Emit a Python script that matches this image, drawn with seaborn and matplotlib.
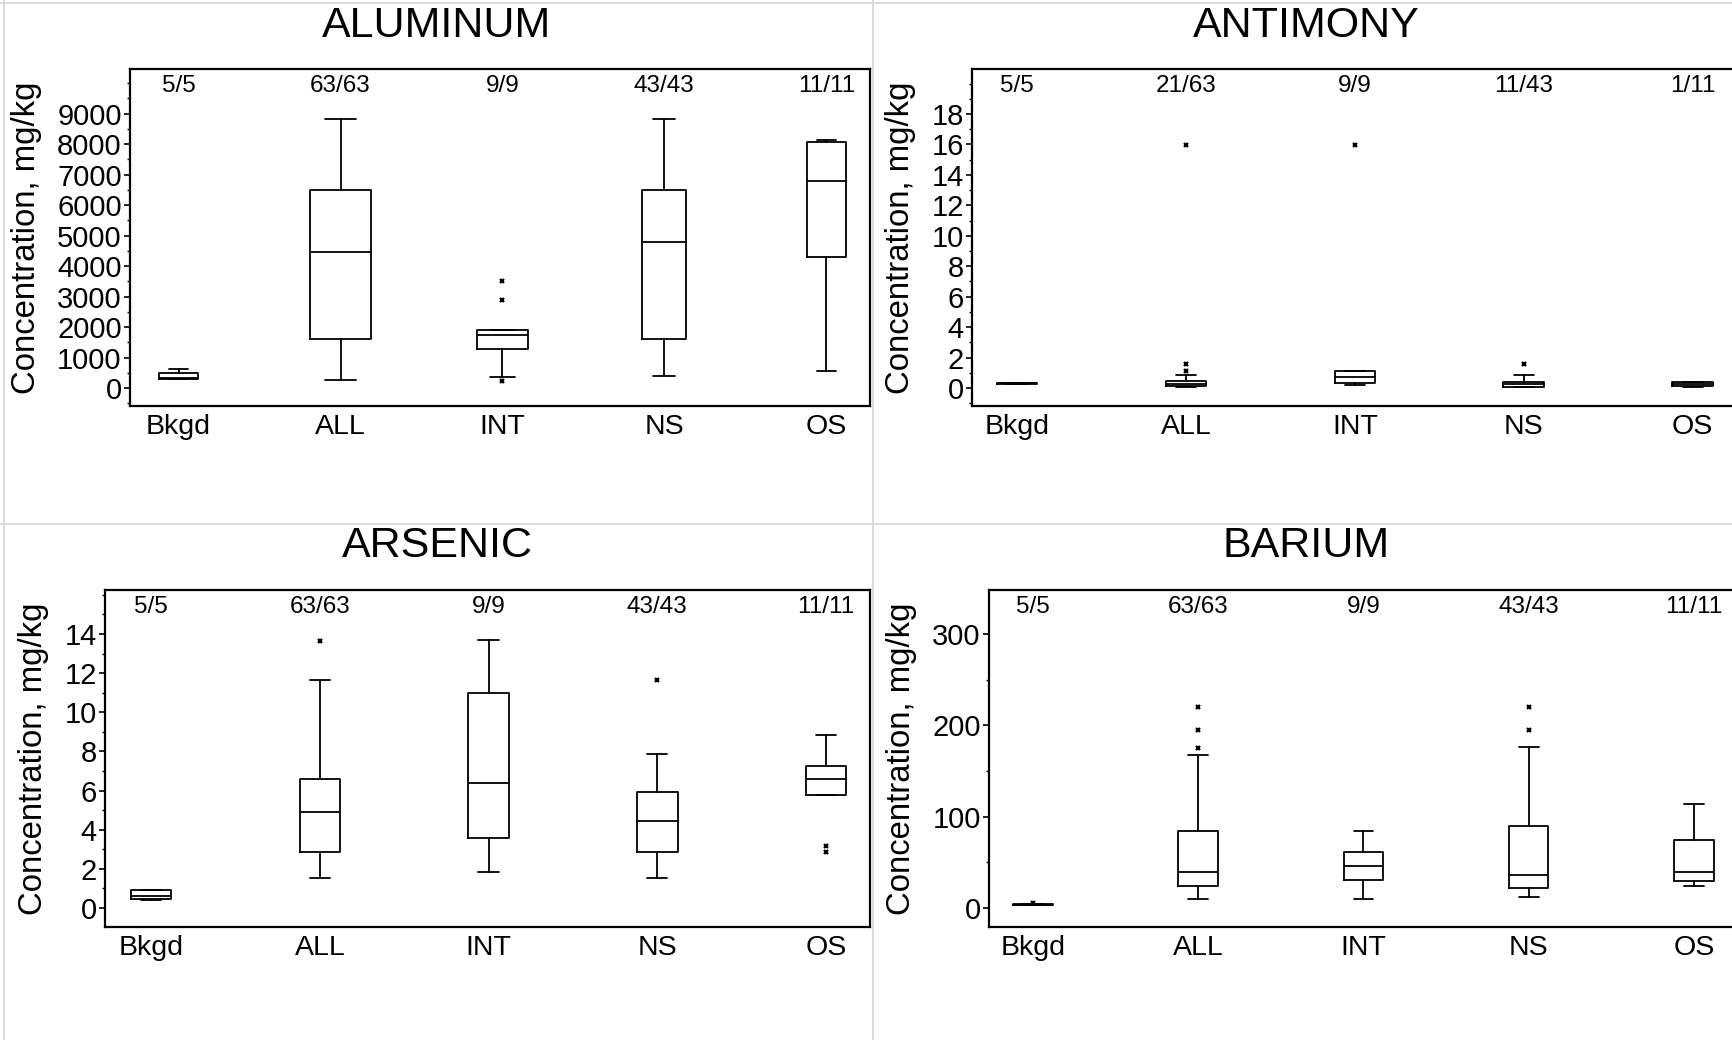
import matplotlib
matplotlib.use("Agg")
import matplotlib.pyplot as plt
import matplotlib.transforms as mtransforms
from matplotlib.lines import Line2D
from matplotlib.ticker import MultipleLocator
import seaborn as sns

# ---------------- data ----------------
categories = ["Bkgd", "ALL", "INT", "NS", "OS"]

al_counts = ["5/5", "63/63", "9/9", "43/43", "11/11"]
al_whislo = [290, 274, 350, 383, 569]
al_q1 = [300, 1620, 1292, 1620, 4292]
al_med = [330, 4467, 1752, 4796, 6789]
al_q3 = [482, 6504, 1916, 6504, 8070]
al_whishi = [613, 8836, 1916, 8836, 8135]
al_out = [[], [], [219, 2900, 3525], [], []]

sb_counts = ["5/5", "21/63", "9/9", "11/43", "1/11"]
sb_whislo = [0.29, 0.05, 0.22, 0.05, 0.06]
sb_q1 = [0.29, 0.12, 0.30, 0.10, 0.12]
sb_med = [0.31, 0.28, 0.70, 0.28, 0.25]
sb_q3 = [0.33, 0.48, 1.09, 0.40, 0.38]
sb_whishi = [0.33, 0.87, 1.09, 0.87, 0.41]
sb_out = [[], [1.12, 1.58, 15.95], [15.95], [1.58], []]

as_counts = ["5/5", "63/63", "9/9", "43/43", "11/11"]
as_whislo = [0.42, 1.53, 1.82, 1.53, 5.77]
as_q1 = [0.45, 2.86, 3.56, 2.86, 5.77]
as_med = [0.62, 4.89, 6.39, 4.45, 6.57]
as_q3 = [0.90, 6.59, 10.97, 5.94, 7.27]
as_whishi = [0.93, 11.67, 13.71, 7.89, 8.86]
as_out = [[], [13.66], [], [11.67], [2.86, 3.15]]

ba_counts = ["5/5", "63/63", "9/9", "43/43", "11/11"]
ba_whislo = [2.8, 10.2, 10.2, 11.7, 23.7]
ba_q1 = [3.0, 23.7, 31.0, 21.5, 30.0]
ba_med = [3.6, 39.0, 46.4, 36.5, 39.0]
ba_q3 = [4.2, 83.9, 61.3, 90.1, 74.8]
ba_whishi = [4.5, 167.5, 83.9, 176.6, 113.9]
ba_out = [[5.6], [174.8, 195.0, 219.7], [], [195.0, 219.7], []]

# ---------------- style ----------------
sns.set_theme(style="white")
plt.rcParams["font.family"] = ["Liberation Sans", "DejaVu Sans"]
plt.rcParams["text.color"] = "black"
plt.rcParams["axes.labelcolor"] = "black"
plt.rcParams["xtick.color"] = "black"
plt.rcParams["ytick.color"] = "black"

W, H = 1733, 1040
fig = plt.figure(figsize=(W / 100, H / 100), dpi=100)
fig.patch.set_facecolor("white")


def px_rect(left, right, top, bottom):
    return [left / W, 1 - bottom / H, (right - left) / W, (bottom - top) / H]


panels = [
    dict(title="ALUMINUM", rect=px_rect(130, 870, 69, 406), xlim=(-0.30, 4.27),
         ylim=(-590, 10460), ticks=range(0, 9001, 1000), minor=500,
         title_xy=(437, 26), widths=[0.24, 0.38, 0.31, 0.27, 0.24],
         stats=(al_whislo, al_q1, al_med, al_q3, al_whishi, al_out), counts=al_counts),
    dict(title="ANTIMONY", rect=px_rect(972, 1740, 69, 406), xlim=(-0.266, 4.28),
         ylim=(-1.18, 20.96), ticks=range(0, 19, 2), minor=1,
         title_xy=(1306, 26), widths=[0.24] * 5,
         stats=(sb_whislo, sb_q1, sb_med, sb_q3, sb_whishi, sb_out), counts=sb_counts),
    dict(title="ARSENIC", rect=px_rect(105, 870, 590, 927), xlim=(-0.273, 4.26),
         ylim=(-0.97, 16.25), ticks=range(0, 15, 2), minor=1,
         title_xy=(437, 546), widths=[0.24] * 5,
         stats=(as_whislo, as_q1, as_med, as_q3, as_whishi, as_out), counts=as_counts),
    dict(title="BARIUM", rect=px_rect(989, 1740, 590, 927), xlim=(-0.267, 4.28),
         ylim=(-20.8, 348), ticks=range(0, 301, 100), minor=50,
         title_xy=(1306, 546), widths=[0.24] * 5,
         stats=(ba_whislo, ba_q1, ba_med, ba_q3, ba_whishi, ba_out), counts=ba_counts),
]

line_kw = dict(color="black", linewidth=1.3)

for p in panels:
    ax = fig.add_axes(p["rect"])
    wlo, q1, med, q3, whi, out = p["stats"]
    bxp_stats = []
    for i, cat in enumerate(categories):
        bxp_stats.append(dict(label=cat, whislo=wlo[i], q1=q1[i], med=med[i],
                              q3=q3[i], whishi=whi[i], fliers=out[i]))
    ax.bxp(bxp_stats, positions=range(len(categories)), widths=p["widths"],
           showfliers=True, patch_artist=False,
           boxprops=line_kw, whiskerprops=line_kw, capprops=line_kw,
           medianprops=line_kw,
           flierprops=dict(marker="x", markersize=3.2, markeredgewidth=1.6,
                           markeredgecolor="black", linestyle="none"))
    ax.set_xlim(*p["xlim"])
    ax.set_ylim(*p["ylim"])
    ax.set_xticks(range(len(categories)))
    ax.set_xticklabels(categories, fontsize=20.5)
    ax.set_yticks(list(p["ticks"]))
    ax.set_yticklabels([str(t) for t in p["ticks"]], fontsize=21)
    ax.yaxis.set_minor_locator(MultipleLocator(p["minor"]))
    ax.tick_params(axis="x", length=0, pad=6)
    ax.tick_params(axis="y", which="major", length=4, width=1.2, pad=2,
                   direction="out", left=True, color="black")
    ax.tick_params(axis="y", which="minor", length=2, width=1.0,
                   direction="out", left=True, color="black")
    for s in ax.spines.values():
        s.set_color("black")
        s.set_linewidth(1.6)
    ax.set_ylabel("Concentration, mg/kg", fontsize=23.7, labelpad=11)
    ax.grid(False)

    trans = mtransforms.blended_transform_factory(ax.transData, ax.transAxes)
    for i, c in enumerate(p["counts"]):
        ax.text(i, 0.95, c, transform=trans, ha="center", va="center", fontsize=17.5)

    tx, ty = p["title_xy"]
    fig.text(tx / W, 1 - ty / H, p["title"], ha="center", va="center", fontsize=31)

# light grey panel frame lines
grey = "#d4d4d4"
for (x0, y0, x1, y1) in [(0, 3, W, 3), (4, 0, 4, H), (0, 524, W, 524), (873, 0, 873, H)]:
    fig.add_artist(Line2D([x0 / W, x1 / W], [1 - y0 / H, 1 - y1 / H],
                          transform=fig.transFigure, color=grey, linewidth=1.2))

fig.savefig("out.png", dpi=100, facecolor="white")
